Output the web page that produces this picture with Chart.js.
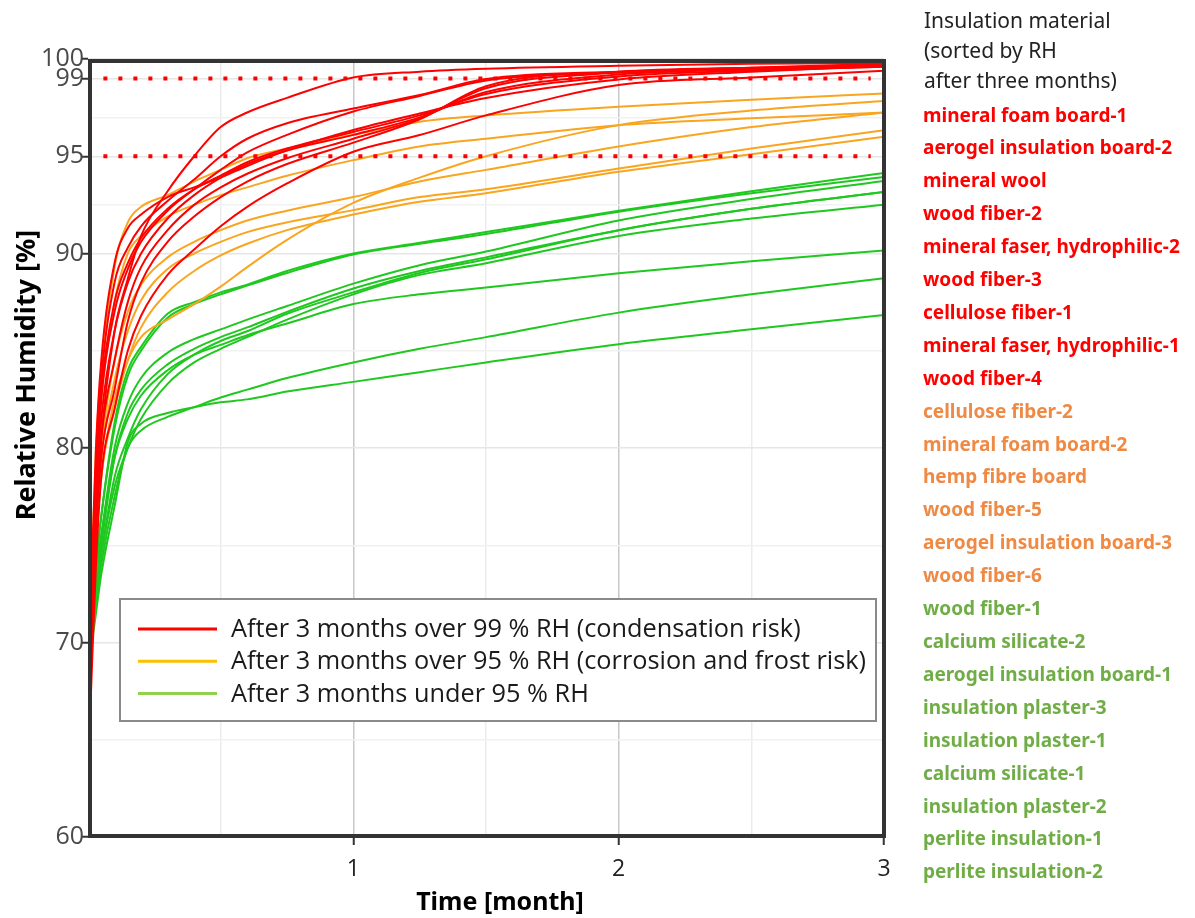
<!DOCTYPE html>
<html>
<head>
<meta charset="utf-8">
<script src="https://cdn.jsdelivr.net/npm/chart.js@4.4.1/dist/chart.umd.min.js"></script>
<style>
  body { margin: 0; background: #fff; }
  #wrap { position: relative; width: 1195px; height: 918px; }
  #side { position: absolute; left: 924px; top: 5px; font-family: 'Noto Sans', sans-serif; }
  #side .head { font-size: 21px; line-height: 30px; color: #222; white-space: nowrap; }
  #mats { list-style: none; margin: 0; padding: 0; position: absolute; top: 93.5px; left: -1px; white-space: nowrap; }
  #mats li { font-size: 19px; font-weight: bold; line-height: 32.9px; }
</style>
</head>
<body>
<div id="wrap">
  <canvas id="rhChart" width="1195" height="918"></canvas>
  <div id="side">
    <div class="head">Insulation material<br>(sorted by RH<br>after three months)</div>
    <ul id="mats"></ul>
  </div>
</div>
<script>
// 時間軸 [month]
const months = [0.01, 0.03, 0.05, 0.1, 0.15, 0.2, 0.3, 0.4, 0.5, 0.6, 0.75, 1, 1.25, 1.5, 2, 2.5, 3];

// 3か月後 99 % RH 以上
const redNames = ['mineral foam board-1', 'aerogel insulation board-2', 'mineral wool', 'wood fiber-2',
  'mineral faser, hydrophilic-2', 'wood fiber-3', 'cellulose fiber-1', 'mineral faser, hydrophilic-1', 'wood fiber-4'];
const redRH = [
  [69, 76, 80.5, 86, 88.7, 90.9, 93.2, 95.0, 96.5, 97.25, 98.0, 99.05, 99.35, 99.5, 99.65, 99.75, 99.8],
  [71, 79, 83.5, 88.5, 90.3, 91.4, 92.7, 93.8, 95.0, 95.9, 96.7, 97.45, 98.15, 98.97, 99.35, 99.55, 99.75],
  [70, 78, 82.5, 87, 89.2, 90.6, 92.2, 93.3, 94.3, 95.2, 96.1, 97.3, 98.1, 98.9, 99.3, 99.5, 99.7],
  [72, 80, 84.5, 89.5, 91.3, 92.0, 92.9, 93.4, 93.9, 94.5, 95.3, 96.35, 97.2, 98.0, 98.95, 99.35, 99.65],
  [71, 79, 83, 87.5, 89.5, 90.8, 92.3, 93.3, 94.0, 94.7, 95.4, 96.25, 97.1, 98.2, 99.1, 99.4, 99.6],
  [70, 77.5, 81.5, 86, 88.5, 90.0, 91.8, 93.0, 93.9, 94.6, 95.3, 96.1, 97.0, 98.3, 99.2, 99.45, 99.6],
  [69, 76.5, 80.5, 84.5, 87.5, 89.3, 91.2, 92.5, 93.4, 94.1, 94.9, 95.9, 96.95, 98.5, 99.3, 99.5, 99.65],
  [68, 75.5, 79.5, 83, 86.5, 88.5, 90.6, 91.9, 92.9, 93.7, 94.6, 95.7, 96.9, 98.6, 99.35, 99.55, 99.7],
  [67, 74, 78.5, 82, 85, 86.8, 88.9, 90.2, 91.4, 92.4, 93.6, 95.23, 96.09, 97.1, 98.66, 99.05, 99.4]
];

// 3か月後 95 % RH 以上
const orangeNames = ['cellulose fiber-2', 'mineral foam board-2', 'hemp fibre board', 'wood fiber-5',
  'aerogel insulation board-3', 'wood fiber-6'];
const orangeRH = [
  [72, 80, 84, 89.3, 91.6, 92.4, 93.0, 93.7, 94.3, 94.9, 95.4, 96.1, 96.77, 97.1, 97.55, 97.9, 98.23],
  [69, 75, 78.5, 82.5, 84.5, 85.7, 86.6, 87.4, 88.3, 89.3, 90.7, 92.6, 93.9, 95.0, 96.6, 97.35, 97.84],
  [71, 78.5, 82.5, 87.5, 90.0, 90.9, 91.9, 92.5, 93.0, 93.4, 94.0, 94.8, 95.5, 95.9, 96.6, 96.95, 97.25],
  [70, 76.5, 80, 84.5, 87, 88.4, 89.8, 90.6, 91.2, 91.7, 92.2, 92.9, 93.7, 94.3, 95.5, 96.5, 97.25],
  [69.5, 76, 79.5, 83.5, 86, 87.6, 89.2, 90.0, 90.6, 91.1, 91.6, 92.23, 92.9, 93.3, 94.37, 95.4, 96.34],
  [69, 75, 78.5, 82, 84.5, 86.2, 88.0, 89.1, 89.9, 90.5, 91.2, 92.0, 92.66, 93.1, 94.2, 95.1, 96.0]
];

// 3か月後 95 % RH 未満
const greenNames = ['wood fiber-1', 'calcium silicate-2', 'aerogel insulation board-1', 'insulation plaster-3',
  'insulation plaster-1', 'calcium silicate-1', 'insulation plaster-2', 'perlite insulation-1', 'perlite insulation-2'];
const greenRH = [
  [71, 74, 76.5, 81.3, 84.0, 85.2, 86.9, 87.5, 88.0, 88.4, 89.1, 90.0, 90.55, 91.1, 92.2, 93.2, 94.14],
  [71, 74, 76.5, 81.0, 83.7, 85.0, 86.7, 87.4, 87.9, 88.35, 89.0, 89.95, 90.5, 91.0, 92.15, 93.1, 93.93],
  [70.5, 73.5, 75.5, 80.0, 82.3, 83.6, 84.9, 85.6, 86.1, 86.6, 87.3, 88.45, 89.4, 90.1, 91.7, 92.8, 93.73],
  [70, 73, 75, 79.5, 81.8, 83.0, 84.3, 85.1, 85.7, 86.2, 87.0, 88.2, 89.1, 89.8, 91.2, 92.3, 93.16],
  [70, 72.5, 74.5, 78.5, 80.5, 82.0, 83.8, 84.8, 85.5, 86.0, 86.9, 88.0, 89.0, 89.7, 91.2, 92.3, 93.16],
  [70, 72.5, 74.5, 78.0, 80.0, 81.5, 83.3, 84.4, 85.1, 85.7, 86.6, 87.9, 88.9, 89.5, 90.9, 91.8, 92.51],
  [70.5, 73.5, 75.5, 79.5, 81.5, 82.7, 84.0, 84.8, 85.3, 85.8, 86.4, 87.4, 87.9, 88.25, 88.98, 89.6, 90.15],
  [70, 72, 74, 77.5, 80.0, 80.9, 81.6, 82.1, 82.6, 83.0, 83.6, 84.4, 85.1, 85.7, 86.96, 87.9, 88.73],
  [69.5, 71.5, 73.5, 77.0, 80.3, 81.25, 81.8, 82.1, 82.35, 82.5, 82.9, 83.4, 83.9, 84.4, 85.34, 86.1, 86.84]
];

// 閾値 (点線)
const thresholds = [99, 95];
const thresholdSpan = [0.058, 2.95];

// 軸の目盛
const xTicks = [0, 0.5, 1, 1.5, 2, 2.5, 3];
const xLabels = [1, 2, 3];
const yTicks = [60, 65, 70, 75, 80, 85, 90, 92.5, 95, 97, 99, 100];
const yLabels = [60, 70, 80, 90, 95, 99, 100];

// 凡例
const legendTexts = [
  'After 3 months over 99 % RH (condensation risk)',
  'After 3 months over 95 % RH (corrosion and frost risk)',
  'After 3 months under 95 % RH'
];
const legendColors = ['#ff0000', '#ffc000', '#92d050'];

const lineColors = { red: '#ff0000', orange: '#f9a51f', green: '#1fc81f' };
const textColors = { red: '#ff0000', orange: '#ef8a45', green: '#70ad47' };

// 右側の材料リスト
const mats = document.getElementById('mats');
[[redNames, 'red'], [orangeNames, 'orange'], [greenNames, 'green']].forEach(([names, key]) => {
    names.forEach(n => {
        const li = document.createElement('li');
        li.textContent = n;
        li.style.color = textColors[key];
        mats.appendChild(li);
    });
});

function toPoints(values) {
    return values.map((v, i) => ({ x: months[i], y: v }));
}

// データセット作成 (先頭ほど上に描かれる)
const datasets = [];
thresholds.forEach(t => {
    datasets.push({
        label: t + ' % RH',
        data: thresholdSpan.map(x => ({ x: x, y: t })),
        borderColor: '#ff0000',
        borderWidth: 4,
        borderDash: [4, 11],
        borderCapStyle: 'butt',
        tension: 0,
        cubicInterpolationMode: 'default'
    });
});
redRH.forEach((vals, i) => datasets.push({ label: redNames[i], data: toPoints(vals), borderColor: lineColors.red }));
orangeRH.forEach((vals, i) => datasets.push({ label: orangeNames[i], data: toPoints(vals), borderColor: lineColors.orange }));
greenRH.forEach((vals, i) => datasets.push({ label: greenNames[i], data: toPoints(vals), borderColor: lineColors.green }));

// 枠線
const framePlugin = {
    id: 'frame',
    afterDatasetsDraw(chart) {
        const { ctx, chartArea: a } = chart;
        ctx.save();
        ctx.strokeStyle = '#333';
        ctx.lineWidth = 4;
        ctx.strokeRect(a.left + 2, a.top + 2, a.right - a.left - 2, a.bottom - a.top - 3);
        ctx.restore();
    }
};

// 凡例ボックス
const boxLegend = {
    id: 'boxLegend',
    afterDraw(chart) {
        const ctx = chart.ctx;
        ctx.save();
        ctx.fillStyle = '#fff';
        ctx.fillRect(120, 599, 756, 122);
        ctx.strokeStyle = '#8a8a8a';
        ctx.lineWidth = 2;
        ctx.strokeRect(120, 599, 756, 122);
        ctx.font = "25.3px 'Open Sans', sans-serif";
        ctx.textBaseline = 'middle';
        ctx.fillStyle = '#1a1a1a';
        legendTexts.forEach((txt, i) => {
            const y = 629 + i * 32.2;
            ctx.strokeStyle = legendColors[i];
            ctx.lineWidth = 3;
            ctx.beginPath();
            ctx.moveTo(138, y);
            ctx.lineTo(217, y);
            ctx.stroke();
            ctx.fillText(txt, 231, y + 1);
        });
        ctx.restore();
    }
};

// 軸タイトル
const axisTitles = {
    id: 'axisTitles',
    afterDraw(chart) {
        const ctx = chart.ctx;
        ctx.save();
        ctx.fillStyle = '#000';
        ctx.textAlign = 'center';
        ctx.textBaseline = 'middle';
        ctx.font = "bold 25px 'Noto Sans', sans-serif";
        ctx.fillText('Time [month]', 500, 903);
        ctx.font = "bold 27px 'Noto Sans', sans-serif";
        ctx.translate(27, 375);
        ctx.rotate(-Math.PI / 2);
        ctx.fillText('Relative Humidity [%]', 0, 0);
        ctx.restore();
    }
};

Chart.defaults.font.family = "'Open Sans', 'Noto Sans', sans-serif";

const ctx = document.getElementById('rhChart').getContext('2d');
new Chart(ctx, {
    type: 'line',
    data: { datasets: datasets },
    options: {
        responsive: false,
        animation: false,
        devicePixelRatio: 1,
        layout: { padding: { left: 0, right: 311, top: 59, bottom: 0 } },
        plugins: {
            legend: { display: false },
            tooltip: { enabled: false }
        },
        elements: {
            point: { radius: 0 },
            line: { borderWidth: 2, cubicInterpolationMode: 'monotone' }
        },
        scales: {
            x: {
                type: 'linear',
                min: 0,
                max: 3,
                afterBuildTicks: s => { s.ticks = xTicks.map(v => ({ value: v })); },
                afterFit: s => { s.height = 81; },
                border: { display: false },
                grid: {
                    color: c => xLabels.includes(c.tick.value) && c.tick.value < 3 ? '#c8c8c8'
                        : (c.tick.value % 1 === 0.5 ? '#ececec' : 'rgba(0,0,0,0)'),
                    tickColor: c => xLabels.includes(c.tick.value) ? '#333' : 'rgba(0,0,0,0)',
                    tickLength: 8,
                    tickWidth: 2,
                    lineWidth: 1.5
                },
                ticks: {
                    autoSkip: false,
                    maxRotation: 0,
                    padding: 11,
                    color: '#222',
                    font: { size: 23 },
                    callback: v => xLabels.includes(v) ? String(v) : ''
                }
            },
            y: {
                type: 'linear',
                min: 60,
                max: 100,
                afterBuildTicks: s => { s.ticks = yTicks.map(v => ({ value: v })); },
                afterFit: s => { s.width = 88; },
                border: { display: false },
                grid: {
                    color: c => yLabels.includes(c.tick.value) ? '#e6e6e6' : '#f1f1f1',
                    tickColor: c => yLabels.includes(c.tick.value) ? '#333' : 'rgba(0,0,0,0)',
                    tickLength: 7,
                    tickWidth: 2,
                    lineWidth: 1.5
                },
                ticks: {
                    autoSkip: false,
                    padding: -3,
                    color: '#4a4a4a',
                    font: { size: 25 },
                    callback: v => yLabels.includes(v) ? String(v) : ''
                }
            }
        }
    },
    plugins: [framePlugin, boxLegend, axisTitles]
});
</script>
</body>
</html>
